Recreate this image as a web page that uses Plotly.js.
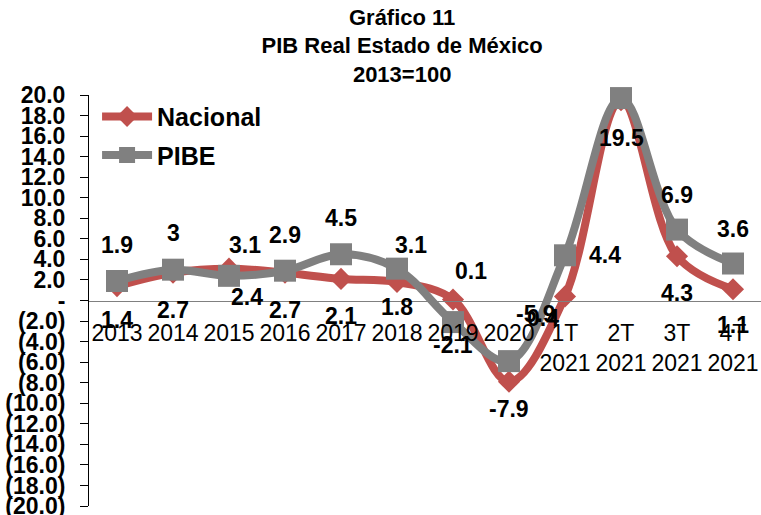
<!DOCTYPE html>
<html>
<head>
<meta charset="utf-8">
<script src="https://cdn.plot.ly/plotly-3.0.1.min.js"></script>
<style>html,body{margin:0;padding:0;background:#fff;}#chart{width:761px;height:515px;}</style>
</head>
<body>
<div id="chart"></div>
<script>
// ---- data ----
const categories = ['2013','2014','2015','2016','2017','2018','2019','2020','1T<br>2021','2T<br>2021','3T<br>2021','4T<br>2021'];
const nacional = [1.4, 2.7, 3.1, 2.7, 2.1, 1.8, 0.1, -7.9, 0.4, 19.5, 4.3, 1.1];
const pibe     = [1.9, 3.0, 2.4, 2.9, 4.5, 3.1, -2.1, -5.9, 4.4, 19.7, 6.9, 3.6];
const pibeShowLabel = [true,true,true,true,true,true,true,true,true,false,true,true];
const yTickVals = [20,18,16,14,12,10,8,6,4,2,0,-2,-4,-6,-8,-10,-12,-14,-16,-18,-20];

// ---- styles / label placement (pixels) ----
const red = '#C0504D', gray = '#808080';
const nacOff = [[0,-34],[0,-37],[16,24],[0,-37],[0,-37],[0,-25],[18,28],[0,-27],[-22,-22],[0,-38],[0,-37],[0,-36]];
const pibOff = [[0,36],[0,37],[18,-21],[0,36],[0,36],[14,24],[0,-23],[27,47],[40,0],[0,0],[0,35],[0,35]];

const yTickText = yTickVals.map(v => v === 0 ? '-' : (v > 0 ? v.toFixed(1) : '(' + Math.abs(v).toFixed(1) + ')'));
const FONT = 'Liberation Sans, Arial, Helvetica, sans-serif';

const traces = [
  {
    x: categories, y: nacional, name: 'Nacional', type: 'scatter', mode: 'lines+markers',
    line: {color: red, width: 8, shape: 'spline', smoothing: 1},
    marker: {symbol: 'diamond', size: 17, color: red},
    cliponaxis: false, legendgroup: 'a'
  },
  {
    x: categories, y: pibe, name: 'PIBE', type: 'scatter', mode: 'lines+markers',
    line: {color: gray, width: 8, shape: 'spline', smoothing: 1},
    marker: {symbol: 'square', size: 22, color: gray},
    cliponaxis: false, legendgroup: 'b'
  }
];

const labelFont = {family: FONT, size: 23, color: '#000', weight: 'bold'};
const annotations = [];
nacional.forEach((v, i) => {
  annotations.push({x: i, y: v, xref: 'x', yref: 'y', text: String(v), showarrow: false,
    xshift: nacOff[i][0], yshift: nacOff[i][1], font: labelFont});
});
pibe.forEach((v, i) => {
  if (!pibeShowLabel[i]) return;
  annotations.push({x: i, y: v, xref: 'x', yref: 'y', text: String(v), showarrow: false,
    xshift: pibOff[i][0], yshift: pibOff[i][1], font: labelFont});
});

const layout = {
  width: 761, height: 515,
  margin: {l: 89, r: 0, t: 95, b: 9},
  paper_bgcolor: '#fff', plot_bgcolor: '#fff',
  font: {family: FONT, color: '#000'},
  title: {
    text: 'Gráfico 11<br>PIB Real Estado de México<br>2013=100',
    font: {family: FONT, size: 22, color: '#000', weight: 'bold'},
    x: 0.466, xanchor: 'center', xref: 'paper', y: 0.952, yanchor: 'top'
  },
  showlegend: true,
  legend: {
    x: 0.012, y: 1.003, xanchor: 'left', yanchor: 'top',
    bgcolor: 'rgba(0,0,0,0)', itemwidth: 50, tracegroupgap: 3,
    font: {family: FONT, size: 25, color: '#000', weight: 'bold'}
  },
  xaxis: {
    type: 'category', range: [-0.5, 11.5], anchor: 'free', position: 0.5,
    showline: true, linecolor: gray, linewidth: 1.5, showgrid: false, zeroline: false,
    ticks: '', ticklabelstandoff: 11,
    tickfont: {family: FONT, size: 23, color: '#000'}
  },
  yaxis: {
    range: [-20, 20], tickvals: yTickVals, ticktext: yTickText,
    showline: true, linecolor: '#000', linewidth: 1, showgrid: false, zeroline: false,
    ticks: 'outside', ticklen: 8, tickcolor: '#000', ticklabelstandoff: 10,
    ticklabeloverflow: 'allow',
    tickfont: {family: FONT, size: 23, color: '#000', weight: 'bold'}
  },
  annotations: annotations
};

Plotly.newPlot('chart', traces, layout, {displayModeBar: false, staticPlot: true});
</script>
</body>
</html>
